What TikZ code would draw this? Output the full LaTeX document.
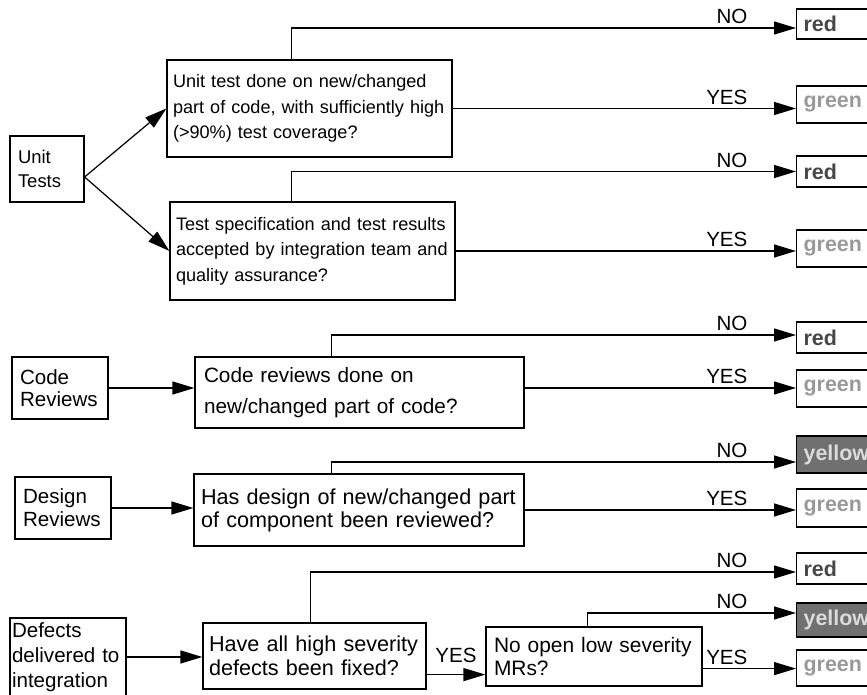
\documentclass[tikz,border=0pt]{standalone}
\usepackage{fontspec}
\setmainfont{Liberation Sans}
\usetikzlibrary{arrows.meta,calc,positioning}

\definecolor{redtxt}{gray}{0.28}
\definecolor{greentxt}{gray}{0.6}
\definecolor{yellowfill}{gray}{0.44}
\definecolor{yellowtxt}{gray}{0.86}

\newcommand{\fsz}[2]{\fontsize{#1}{#2}\selectfont}

\begin{document}
\begin{tikzpicture}[x=0.02cm, y=-0.02cm,
  box/.style={draw, line width=0.7pt, align=left, inner ysep=0pt},
  src/.style={box, font={\fsz{11.7}{12.8}}},
  qbox/.style={box, font={\fsz{11.8}{13.5}}},
  res/.style={draw, line width=0.7pt, anchor=west, text width=1.6cm, inner xsep=0.14cm, inner ysep=0pt, align=left, font={\bfseries\fsz{12.2}{12}}},
  redbox/.style={res, minimum height=0.62cm, text=redtxt},
  greenbox/.style={res, minimum height=0.74cm, text=greentxt},
  yellowbox/.style={res, minimum height=0.74cm, fill=yellowfill, text=yellowtxt},
  arr/.style={-{Triangle[length=0.44cm, width=0.26cm]}, line width=0.7pt},
  lbl/.style={pos=1, anchor=south east, xshift=-0.96cm, yshift=0.07cm, inner sep=0pt, font={\fsz{11.7}{12}}},
  lblm/.style={midway, anchor=south, yshift=0.22cm, inner sep=0pt, font={\fsz{11.7}{12}}}
]
\useasboundingbox (0,0) rectangle (867,695);
\clip (0,0) rectangle (867,695);

% sources
\node[src, font={\fsz{10.5}{13.6}}, text width=1.16cm, inner xsep=0.16cm, minimum height=1.32cm] (unit) at (47,169) {Unit\\Tests};
\node[src, font={\fsz{11.7}{12.5}}, text width=1.6cm, inner xsep=0.16cm, minimum height=1.24cm] (cr) at (60,388) {Code\\Reviews};
\node[src, font={\fsz{11.7}{13}}, text width=1.6cm, inner xsep=0.16cm, minimum height=1.24cm] (dr) at (63,508) {Design\\Reviews};
\node[src, font={\fsz{11.7}{14.2}}, text width=2.24cm, inner xsep=0.04cm, minimum height=1.56cm] (def) at (68,657) {Defects\\delivered to\\integration};

% questions
\node[qbox, font={\fsz{10.3}{14.5}}, text width=5.46cm, inner xsep=0.12cm, minimum height=1.94cm] (ut1) at (309.5,108.5) {Unit test done on new/changed\\part of code, with sufficiently high\\(>90\%) test coverage?};
\node[qbox, font={\fsz{10.3}{14.5}}, text width=5.46cm, inner xsep=0.12cm, minimum height=1.96cm] (ut2) at (312.5,251) {Test specification and test results\\accepted by integration team and\\quality assurance?};
\node[qbox, font={\fsz{11.8}{17.6}}, text width=6.22cm, inner xsep=0.18cm, minimum height=1.42cm] (crq) at (359.5,392.5) {Code reviews done on\\new/changed part of code?};
\node[qbox, font={\fsz{12.3}{13}}, text width=6.32cm, inner xsep=0.14cm, minimum height=1.44cm] (drq) at (359,510) {Has design of new/changed part\\of component been reviewed?};
\node[qbox, font={\fsz{12.3}{13.6}}, text width=4.22cm, inner xsep=0.12cm, minimum height=1.32cm] (hq) at (314.5,656) {\makebox[4.22cm][s]{Have all high severity}\\defects been fixed?};
\node[qbox, font={\fsz{11.9}{13}}, text width=4.0cm, inner xsep=0.16cm, minimum height=1.18cm] (nq) at (594,656.5) {No open low severity\\MRs?};

% results
\node[redbox, minimum height=0.6cm] (red1) at (796,24) {red};
\node[greenbox] (green1) at (796,104.5) {green};
\node[redbox] (red2) at (796,171.5) {red};
\node[greenbox] (green2) at (796,248.5) {green};
\node[redbox] (red3) at (796,337.5) {red};
\node[greenbox] (green3) at (796,388.5) {green};
\node[yellowbox] (yellow1) at (796,454.5) {yellow};
\node[greenbox, minimum height=0.76cm] (green4) at (796,508) {green};
\node[redbox] (red4) at (796,568.5) {red};
\node[yellowbox, minimum height=0.68cm] (yellow2) at (796,620) {yellow};
\node[greenbox, minimum height=0.72cm] (green5) at (796,668) {green};

\coordinate (ufork) at ($(unit.east)+(0,8)$);
\coordinate (cyes) at ($(crq.east)+(0,-4.5)$);
\coordinate (hyes) at ($(hq.south east)+(0,-15)$);
\coordinate (nyes) at ($(nq.south east)+(0,-18)$);

% inputs
\draw[arr] (ufork) -- (ut1.west);
\draw[arr] (ufork) -- (ut2.west);
\draw[arr] (cr.east) -- (cr.east -| crq.west);
\draw[arr] (dr.east) -- (dr.east -| drq.west);
\draw[arr] (def.east) -- (def.east -| hq.west);

% NO branches
\draw[arr] (ut1.north west) ++(125,0) |- ([yshift=-0.08cm]red1.west) node[lbl] {NO};
\draw[arr] (ut2.north west) ++(122,0) |- (red2.west) node[lbl] {NO};
\draw[arr] (crq.north west) ++(137,0) |- ([yshift=0.05cm]red3.west) node[lbl] {NO};
\draw[arr] (drq.north west) ++(138,0) |- ([yshift=-0.15cm]yellow1.west) node[lbl] {NO};
\draw[arr] (hq.north west) ++(108,0) |- ([yshift=-0.07cm]red4.west) node[lbl] {NO};
\draw[arr] (nq.north west) ++(102,0) |- ([yshift=0.14cm]yellow2.west) node[lbl] {NO};

% YES branches
\draw[arr] (ut1.east) -- (ut1.east -| green1.west) node[lbl] {YES};
\draw[arr] (ut2.east) -- (ut2.east -| green2.west) node[lbl] {YES};
\draw[arr] (cyes) -- (cyes -| green3.west) node[lbl] {YES};
\draw[arr] (drq.east) -- (drq.east -| green4.west) node[lbl] {YES};
\draw[arr] (hyes) -- (hyes -| nq.west) node[lblm] {YES};
\draw[arr] (nyes) -- (nyes -| green5.west) node[lbl] {YES};
\end{tikzpicture}
\end{document}
